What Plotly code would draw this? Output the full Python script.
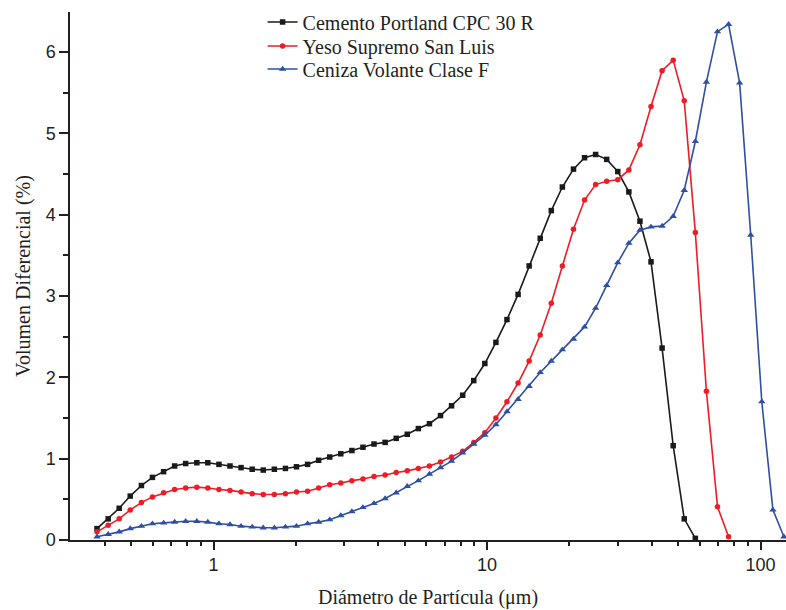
import plotly.graph_objects as go

diam = [0.375, 0.412, 0.452, 0.496, 0.545, 0.598, 0.657, 0.721, 0.791, 0.869,
        0.953, 1.047, 1.149, 1.261, 1.385, 1.520, 1.669, 1.832, 2.011, 2.208,
        2.423, 2.660, 2.920, 3.206, 3.519, 3.862, 4.241, 4.656, 5.111, 5.611,
        6.159, 6.761, 7.421, 8.147, 8.944, 9.819, 10.78, 11.83, 12.99, 14.26,
        15.65, 17.18, 18.86, 20.71, 22.73, 24.95, 27.39, 30.07, 33.01, 36.24,
        39.78, 43.67, 47.94, 52.62, 57.77, 63.41, 69.61, 76.42, 83.89, 92.09,
        101.1, 111.0, 121.8]

cemento = [0.14, 0.26, 0.39, 0.54, 0.67, 0.77, 0.84, 0.91, 0.94, 0.95,
           0.95, 0.93, 0.91, 0.89, 0.87, 0.86, 0.87, 0.88, 0.90, 0.93,
           0.98, 1.02, 1.06, 1.10, 1.14, 1.18, 1.20, 1.25, 1.30, 1.37,
           1.43, 1.53, 1.65, 1.78, 1.96, 2.17, 2.43, 2.71, 3.02, 3.37,
           3.71, 4.05, 4.34, 4.56, 4.70, 4.74, 4.68, 4.53, 4.28, 3.92,
           3.42, 2.36, 1.16, 0.26, 0.02]

yeso = [0.10, 0.18, 0.26, 0.37, 0.46, 0.53, 0.58, 0.62, 0.64, 0.65,
        0.64, 0.62, 0.61, 0.59, 0.57, 0.56, 0.56, 0.57, 0.59, 0.60,
        0.64, 0.68, 0.70, 0.73, 0.75, 0.78, 0.80, 0.83, 0.85, 0.88,
        0.91, 0.96, 1.02, 1.09, 1.20, 1.32, 1.50, 1.70, 1.93, 2.20,
        2.52, 2.91, 3.37, 3.82, 4.18, 4.37, 4.41, 4.43, 4.55, 4.86,
        5.33, 5.77, 5.90, 5.40, 3.78, 1.83, 0.41, 0.04]

ceniza = [0.04, 0.07, 0.10, 0.14, 0.17, 0.20, 0.21, 0.22, 0.23, 0.23,
          0.22, 0.20, 0.19, 0.17, 0.16, 0.15, 0.15, 0.16, 0.17, 0.20,
          0.22, 0.25, 0.30, 0.35, 0.40, 0.45, 0.51, 0.58, 0.66, 0.73,
          0.81, 0.89, 0.97, 1.07, 1.18, 1.29, 1.42, 1.58, 1.73, 1.89,
          2.06, 2.20, 2.34, 2.47, 2.62, 2.85, 3.13, 3.41, 3.65, 3.81,
          3.85, 3.86, 3.98, 4.30, 4.90, 5.63, 6.25, 6.34, 5.62, 3.75,
          1.70, 0.37, 0.04]

names = ["Cemento Portland CPC 30 R", "Yeso Supremo San Luis", "Ceniza Volante Clase F"]

x_major = [1, 10, 100]
x_minor = [0.4, 0.5, 0.6, 0.7, 0.8, 0.9, 2, 3, 4, 5, 6, 7, 8, 9,
           20, 30, 40, 50, 60, 70, 80, 90]

TXT = "#231f20"
fig = go.Figure()
series = [(cemento, "#1a1a1a", "square", 5.5, "legend"),
          (yeso, "#ee1c25", "circle", 5.5, "legend2"),
          (ceniza, "#2e4fa3", "triangle-up", 6.5, "legend3")]
for (vals, col, sym, sz, lg), nm in zip(series, names):
    fig.add_trace(go.Scatter(
        x=diam[:len(vals)], y=vals, mode="lines+markers", name=nm,
        line=dict(color=col, width=1.6),
        marker=dict(symbol=sym, size=sz, color=col),
        cliponaxis=False, legend=lg,
    ))

leg_common = dict(x=0.269, xanchor="left", yanchor="middle",
                  font=dict(family="Liberation Serif", size=20, color=TXT),
                  bgcolor="rgba(0,0,0,0)")
fig.update_layout(
    width=786, height=610,
    margin=dict(l=70, r=0, t=12, b=70),
    paper_bgcolor="white", plot_bgcolor="white",
    showlegend=True,
    legend=dict(y=0.981, **leg_common),
    legend2=dict(y=0.9356, **leg_common),
    legend3=dict(y=0.892, **leg_common),
    font=dict(family="Liberation Sans", color=TXT),
)
fig.update_xaxes(
    type="log", range=[-0.5247, 2.0932],
    tickmode="array", tickvals=x_major, ticktext=["1", "10", "100"],
    ticks="outside", ticklen=8, tickwidth=1.5, tickcolor=TXT,
    showline=True, linecolor=TXT, linewidth=1.5,
    showgrid=False, zeroline=False,
    tickfont=dict(family="Liberation Sans", size=18, color=TXT),
    minor=dict(tickmode="array", tickvals=x_minor, ticks="outside", ticklen=4,
               tickwidth=1.5, tickcolor=TXT, showgrid=False),
    title=dict(text="Diámetro de Partícula (μm)", standoff=16,
               font=dict(family="Liberation Serif", size=20, color=TXT)),
)
fig.update_yaxes(
    range=[0, 6.492], tickmode="linear", tick0=0, dtick=1,
    ticks="outside", ticklen=9, tickwidth=1.5, tickcolor=TXT,
    showline=True, linecolor=TXT, linewidth=1.5,
    showgrid=False, zeroline=False,
    tickfont=dict(family="Liberation Sans", size=18, color=TXT),
    minor=dict(dtick=0.5, ticks="outside", ticklen=5, tickwidth=1.5,
               tickcolor=TXT, showgrid=False),
    title=dict(text="Volumen Diferencial (%)", standoff=10,
               font=dict(family="Liberation Serif", size=20, color=TXT)),
)

fig.write_html("out.html")
